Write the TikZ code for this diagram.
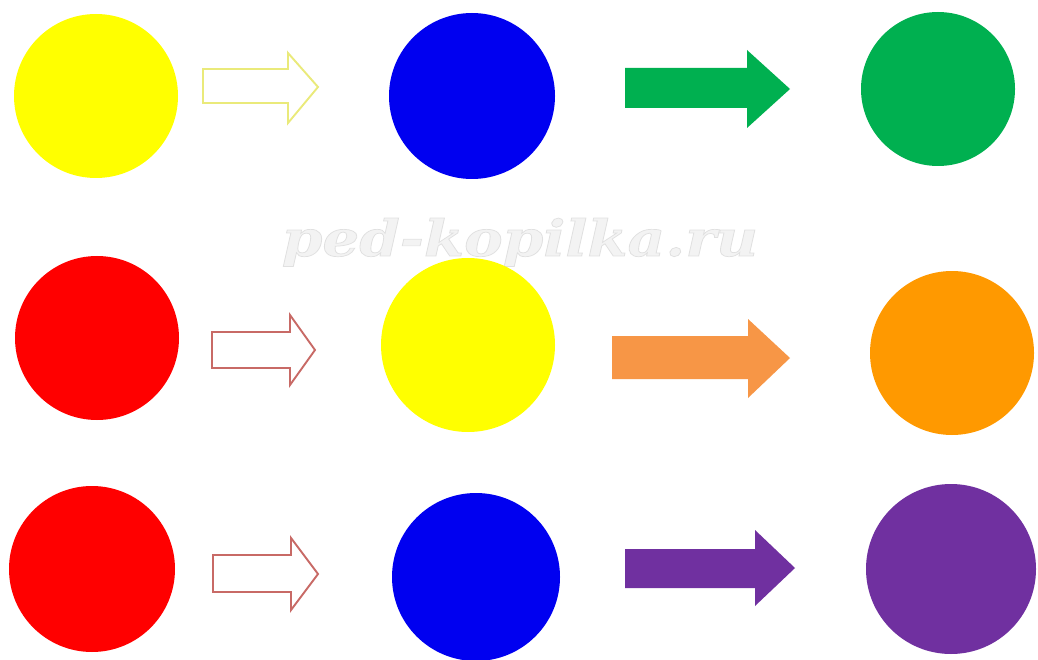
\documentclass[tikz,border=0pt]{standalone}
\usepackage{fontspec}
\newfontfamily\wmfont{DejaVu Serif}
\definecolor{cyellow}{HTML}{FFFF00}
\definecolor{cblue}{HTML}{0000F0}
\definecolor{cgreen}{HTML}{00B050}
\definecolor{cred}{HTML}{FF0000}
\definecolor{corange}{HTML}{FF9900}
\definecolor{carrorange}{HTML}{F79646}
\definecolor{cpurple}{HTML}{7030A0}
\definecolor{outyellow}{HTML}{EAEA7A}
\definecolor{outred}{HTML}{C86A66}
\definecolor{wm}{HTML}{F3F3F3}
\begin{document}
\begin{tikzpicture}[x=1pt,y=-1pt,
  dot/.style={circle,inner sep=0pt,draw=none},
  hollow/.style={line width=1.9pt,fill=white,line join=miter}]
\useasboundingbox (0,0) rectangle (1038,660);
\fill[white] (0,0) rectangle (1038,660);
% watermark
\node[text=wm,anchor=base,inner sep=0pt,xscale=1.16] (wm) at (520,256)
  {\wmfont\bfseries\itshape\fontsize{50}{50}\selectfont\special{pdf:literal direct 2 Tr 0.7 w 0.88 0.88 0.88 RG}ped-kopilka.ru\special{pdf:literal direct 0 Tr}};
% row 1
\node[dot,fill=cyellow,minimum size=164pt] (y1) at (96,96) {};
\node[dot,fill=cblue,minimum size=166pt] (b1) at (472,96) {};
\node[dot,fill=cgreen,minimum size=154pt] (g1) at (938,89) {};
\draw[hollow,draw=outyellow] (203,69) -- (288,69) -- (288,53) -- (318,87) -- (288,123) -- (288,103) -- (203,103) -- cycle;
\fill[cgreen] (625,68) -- (747,68) -- (747,50) -- (790,89) -- (747,128) -- (747,108) -- (625,108) -- cycle;
% row 2
\node[dot,fill=cred,minimum size=164pt] (r2) at (97,338) {};
\node[dot,fill=cyellow,minimum size=174pt] (y2) at (468,345) {};
\node[dot,fill=corange,minimum size=164pt] (o2) at (952,353) {};
\draw[hollow,draw=outred] (212,332) -- (290,332) -- (290,315) -- (315,350) -- (290,385) -- (290,368) -- (212,368) -- cycle;
\fill[carrorange] (612,336) -- (748,336) -- (748,319) -- (790,358) -- (748,398) -- (748,379) -- (612,379) -- cycle;
% row 3
\node[dot,fill=cred,minimum size=166pt] (r3) at (92,569) {};
\node[dot,fill=cblue,minimum size=168pt] (b3) at (476,577) {};
\node[dot,fill=cpurple,minimum size=170pt] (p3) at (951,569) {};
\draw[hollow,draw=outred] (213,555) -- (291,555) -- (291,538) -- (318,574) -- (291,610) -- (291,592) -- (213,592) -- cycle;
\fill[cpurple] (625,549) -- (755,549) -- (755,530) -- (795,568) -- (755,606) -- (755,588) -- (625,588) -- cycle;
\end{tikzpicture}
\end{document}
